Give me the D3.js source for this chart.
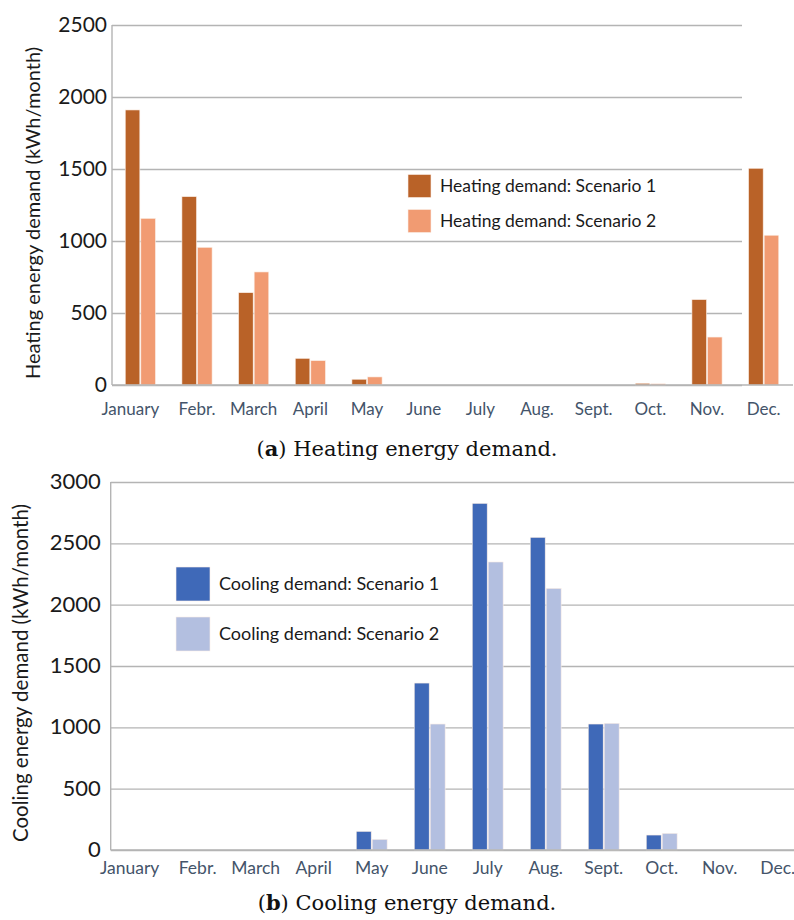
<!DOCTYPE html>
<html>
<head>
<meta charset="utf-8">
<script src="https://cdn.jsdelivr.net/npm/d3@7/dist/d3.min.js"></script>
<style>
  html, body { margin: 0; padding: 0; background: #fff; }
  svg { display: block; }
</style>
</head>
<body>
<svg id="chart" width="794" height="920"></svg>
<script>
// Monthly energy demand, two scenarios
const months = ["January", "Febr.", "March", "April", "May", "June", "July", "Aug.", "Sept.", "Oct.", "Nov.", "Dec."];

const heatingScenario1 = [1910, 1308, 641, 185, 40, 0, 0, 0, 0, 12, 593, 1505];
const heatingScenario2 = [1157, 956, 785, 169, 56, 0, 0, 0, 0, 8, 333, 1040];
const heatingTicks = [0, 500, 1000, 1500, 2000, 2500];

const coolingScenario1 = [0, 0, 0, 0, 152, 1361, 2826, 2549, 1027, 122, 0, 0];
const coolingScenario2 = [0, 0, 0, 0, 87, 1027, 2348, 2133, 1033, 136, 0, 0];
const coolingTicks = [0, 500, 1000, 1500, 2000, 2500, 3000];

const heatingSeries = ["Heating demand: Scenario 1", "Heating demand: Scenario 2"];
const coolingSeries = ["Cooling demand: Scenario 1", "Cooling demand: Scenario 2"];

const svg = d3.select("#chart");
const sansFont = "Lato, 'Open Sans', sans-serif";

function drawPanel(opt) {
  const g = svg.append("g");
  const x = d3.scaleBand().domain(months).range([opt.left, opt.right])
    .paddingInner(0.45).paddingOuter(0.225);
  const sub = d3.scaleBand().domain([0, 1]).range([0, x.bandwidth()]).padding(0);
  const y = d3.scaleLinear().domain([0, opt.max]).range([opt.bottom, opt.top]);

  // horizontal gridlines with plain integer tick labels
  const yAxis = d3.axisLeft(y).tickValues(opt.ticks).tickFormat(d3.format("d"))
    .tickSize(-(opt.gridRight - opt.left));
  const ga = g.append("g").attr("transform", `translate(${opt.left},0)`).call(yAxis);
  ga.select(".domain").remove();
  ga.selectAll(".tick line").attr("stroke", "#b4b4b4").attr("stroke-width", 1.4);
  ga.selectAll(".tick text")
    .attr("font-family", sansFont).attr("font-size", opt.tickSize).attr("fill", "#1a1a1a")
    .attr("x", -opt.tickGap).attr("dy", "0.3em");

  // vertical axis line
  g.append("line").attr("x1", opt.left).attr("x2", opt.left)
    .attr("y1", y(opt.max)).attr("y2", y(0))
    .attr("stroke", "#b4b4b4").attr("stroke-width", 1.4);

  // bars
  const rows = months.map((m, i) => ({ m, v: [opt.s1[i], opt.s2[i]] }));
  const grp = g.append("g").selectAll("g").data(rows).join("g")
    .attr("transform", d => `translate(${x(d.m)},0)`);
  grp.selectAll("rect").data(d => d.v.map((v, k) => ({ v, k }))).join("rect")
    .attr("x", d => sub(d.k) + 0.5)
    .attr("width", sub.bandwidth() - 1)
    .attr("y", d => y(d.v))
    .attr("height", d => Math.max(0, y(0) - y(d.v)))
    .attr("fill", d => opt.colors[d.k])
    .attr("stroke", d => d.v > 0 ? "#fbeee6" : "none")
    .attr("stroke-width", 0.6);

  // x baseline
  g.append("line").attr("x1", opt.left).attr("x2", opt.baseRight)
    .attr("y1", y(0)).attr("y2", y(0))
    .attr("stroke", "#b4b4b4").attr("stroke-width", 1.6);

  // month labels
  g.append("g").selectAll("text").data(months).join("text")
    .attr("x", d => x(d) + x.bandwidth() / 2 + (d === "January" ? -10 : 0))
    .attr("y", y(0) + opt.labelOffset)
    .attr("text-anchor", "middle")
    .attr("font-family", sansFont).attr("font-size", opt.labelSize).attr("fill", "#44546a")
    .text(d => d);

  // y title
  g.append("text")
    .attr("transform", `translate(${opt.titleX},${(y(0) + y(opt.max)) / 2 + opt.titleShift}) rotate(-90)`)
    .attr("text-anchor", "middle")
    .attr("font-family", sansFont).attr("font-size", opt.titleSize).attr("fill", "#1a1a1a")
    .text(opt.title);

  // legend
  const lg = g.append("g");
  opt.series.forEach((name, k) => {
    const ly = opt.legendY + k * opt.legendGap;
    lg.append("rect").attr("x", opt.legendX).attr("y", ly - opt.sw / 2)
      .attr("width", opt.sw).attr("height", opt.sw)
      .attr("fill", opt.colors[k]).attr("stroke", "#fbeee6").attr("stroke-width", 0.6);
    lg.append("text").attr("x", opt.legendX + opt.sw + 9).attr("y", ly)
      .attr("dy", "0.35em")
      .attr("font-family", sansFont).attr("font-size", opt.legendSize).attr("fill", "#1a1a1a")
      .text(name);
  });

  // caption
  const cap = svg.append("text").attr("x", 407).attr("y", opt.captionY)
    .attr("text-anchor", "middle")
    .attr("font-family", "'DejaVu Serif', 'Liberation Serif', serif")
    .attr("font-size", 21).attr("fill", "#111");
  cap.append("tspan").text("(");
  cap.append("tspan").attr("font-weight", "bold").text(opt.letter);
  cap.append("tspan").text(") " + opt.caption);
}

drawPanel({
  left: 112, right: 792, gridRight: 742, baseRight: 793,
  top: 25, bottom: 385, max: 2500, ticks: heatingTicks,
  s1: heatingScenario1, s2: heatingScenario2,
  colors: ["#b96228", "#f19b72"],
  tickSize: 21, tickGap: 5, labelSize: 17, labelOffset: 30,
  title: "Heating energy demand (kWh/month)", titleX: 40, titleShift: 8, titleSize: 20,
  series: heatingSeries, legendX: 408, legendY: 186, legendGap: 35, sw: 23, legendSize: 17.5,
  letter: "a", caption: "Heating energy demand.", captionY: 456
});

drawPanel({
  left: 110.7, right: 806.7, gridRight: 794, baseRight: 794,
  top: 482, bottom: 850, max: 3000, ticks: coolingTicks,
  s1: coolingScenario1, s2: coolingScenario2,
  colors: ["#3f69b8", "#b3bfe0"],
  tickSize: 22, tickGap: 10, labelSize: 17.5, labelOffset: 24,
  title: "Cooling energy demand (kWh/month)", titleX: 28, titleShift: 7, titleSize: 20.5,
  series: coolingSeries, legendX: 176, legendY: 584, legendGap: 50, sw: 34, legendSize: 18,
  letter: "b", caption: "Cooling energy demand.", captionY: 910
});
</script>
</body>
</html>
